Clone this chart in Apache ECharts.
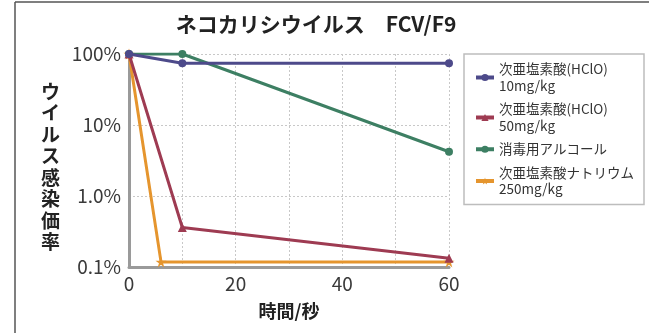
<!DOCTYPE html>
<html><head><meta charset="utf-8">
<script src="https://cdn.jsdelivr.net/npm/echarts@6/dist/echarts.min.js"></script>
<style>html,body{margin:0;padding:0;background:#fff}#c{width:649px;height:333px}</style>
</head><body><div id="c"></div>
<script>
const title = 'ネコカリシウイルス　FCV/F9';
const xName = '時間/秒';
const yName = 'ウイルス感染価率';
const yTickLabels = {0.1:'0.1%', 1:'1.0%', 10:'10%', 100:'100%'};
const seriesNames = ['次亜塩素酸(HClO)\n10mg/kg','次亜塩素酸(HClO)\n50mg/kg','消毒用アルコール','次亜塩素酸ナトリウム\n250mg/kg'];
const hclo10 = [[0,100],[10,74],[60,74]];
const hclo50 = [[0,100],[10,0.36],[60,0.133]];
const alcohol = [[0,100],[10,100],[60,4.2]];
const naclo = [[0,100],[6,0.118],[60,0.118]];
const colors = ['#4d4a8a','#9e3b52','#3d7f63','#e5952e'];

const chart = echarts.init(document.getElementById('c'));
const font = '"Noto Sans CJK JP","Noto Sans",sans-serif';
function mk(i, data, sym, size){
  return {name: seriesNames[i], type:'line', data, symbol: sym, symbolSize: size,
    lineStyle:{width:3,color:colors[i]}, itemStyle:{color:colors[i]}, z: 10 - i};
}
chart.setOption({
  animation:false,
  textStyle:{fontFamily:font},
  title:{text:title, left:311, top:9, textAlign:'center',
    textStyle:{fontSize:21,fontWeight:'bold',color:'#222',fontFamily:font}},
  grid:{left:129,right:200,top:54,bottom:66},
  xAxis:{type:'value',min:0,max:60,interval:10,
    name:xName,nameLocation:'middle',nameGap:35,
    nameTextStyle:{fontSize:18,fontWeight:'bold',color:'#222'},
    axisLine:{show:true,lineStyle:{color:'#9a9a9a',width:3}},
    axisTick:{show:false},
    axisLabel:{fontSize:19,color:'#3a3a3a',margin:7,formatter:v=>v%20===0?String(v):''},
    splitLine:{show:true,lineStyle:{type:[2,2],color:'#c8c8c8',width:1}}},
  yAxis:{type:'log',logBase:10,min:0.1,max:100,
    name:'{s|}\n' + yName.split('').join('\n'),nameLocation:'middle',nameGap:69,nameRotate:0,
    nameTextStyle:{fontSize:19,fontWeight:'bold',color:'#222',lineHeight:21.5,
      rich:{s:{lineHeight:13,fontSize:1}}},
    axisLine:{show:true,lineStyle:{color:'#9a9a9a',width:3}},
    axisTick:{show:false},
    axisLabel:{fontSize:19,color:'#3a3a3a',margin:8,formatter:v=>yTickLabels[Math.round(v*10)/10]||''},
    splitLine:{show:true,lineStyle:{type:[2,2],color:'#c8c8c8',width:1}}},
  legend:{orient:'vertical',left:464,top:54,width:170,
    padding:[7,10,7,10],itemGap:7,itemWidth:18,itemHeight:9,
    borderColor:'#bdbdbd',borderWidth:1.5,
    textStyle:{fontSize:13.5,color:'#333',lineHeight:16.5},
    lineStyle:{width:4},
    data:seriesNames},
  graphic:[
    {type:'line',shape:{x1:15,y1:2,x2:649,y2:2},style:{stroke:'#555',lineWidth:1.5}},
    {type:'line',shape:{x1:15,y1:2,x2:15,y2:333},style:{stroke:'#555',lineWidth:1.5}}
  ],
  series:[
    mk(0,hclo10,'circle',8),
    mk(1,hclo50,'triangle',9),
    mk(2,alcohol,'circle',8),
    mk(3,naclo,'path://M50 0 L61 35 L98 35 L68 57 L79 91 L50 70 L21 91 L32 57 L2 35 L39 35 Z',11)
  ]
});
</script></body></html>
